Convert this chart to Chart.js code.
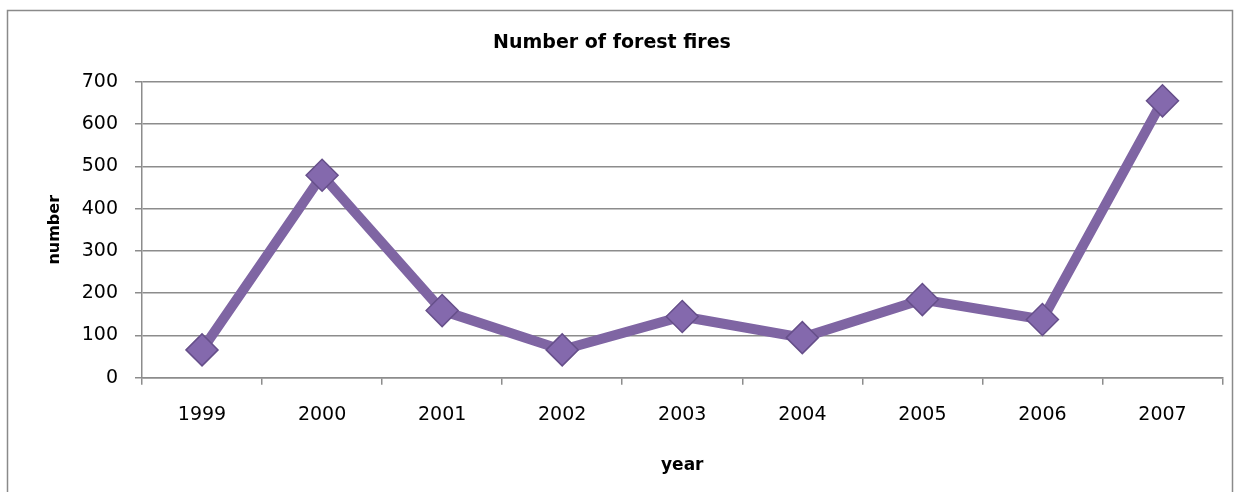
<!DOCTYPE html>
<html>
<head>
<meta charset="utf-8">
<script src="https://cdn.jsdelivr.net/npm/chart.js"></script>
<style>
  html, body { margin: 0; padding: 0; background: #fff; }
  #wrap { width: 1240px; height: 492px; }
</style>
</head>
<body>
<div id="wrap"><canvas id="fireChart" width="1240" height="492"></canvas></div>
<script>
var years = ["1999", "2000", "2001", "2002", "2003", "2004", "2005", "2006", "2007"];
var fires = [66, 479, 159, 66, 145, 95, 185, 138, 655];
var yTicks = [0, 100, 200, 300, 400, 500, 600, 700];

var gridColor = '#8c8c8c';
var font = "'DejaVu Sans', sans-serif";

// outer frame like the spreadsheet chart box
var framePlugin = {
  id: 'frame',
  beforeDraw: function(chart) {
    var ctx = chart.ctx;
    ctx.save();
    ctx.fillStyle = '#fff';
    ctx.fillRect(0, 0, chart.width, chart.height);
    ctx.strokeStyle = '#8a8a8a';
    ctx.lineWidth = 1.5;
    ctx.strokeRect(7.5, 10.5, 1225, 500);
    ctx.restore();
  }
};

var ctx = document.getElementById('fireChart').getContext('2d');
var fireChart = new Chart(ctx, {
  type: 'line',
  data: {
    labels: years,
    datasets: [{
      label: 'number',
      data: fires,
      borderColor: '#7f65a3',
      borderWidth: 10,
      pointStyle: 'rectRot',
      pointRadius: 16,
      pointBackgroundColor: '#8469ad',
      pointBorderColor: '#664f8a',
      pointBorderWidth: 1.5,
      tension: 0,
      fill: false
    }]
  },
  options: {
    responsive: false,
    animation: false,
    layout: { padding: { left: 0, right: 16, top: 0, bottom: 0 } },
    plugins: {
      legend: { display: false },
      tooltip: { enabled: false },
      title: {
        display: true,
        text: 'Number of forest fires',
        color: '#000',
        font: { family: font, size: 19, weight: 'bold' },
        padding: { top: 32, bottom: 27 }
      }
    },
    scales: {
      x: {
        offset: true,
        grid: {
          offset: true,
          drawOnChartArea: false,
          drawTicks: true,
          tickLength: 7,
          color: gridColor,
          lineWidth: 1.5
        },
        border: { color: gridColor, width: 1.5 },
        ticks: {
          color: '#000',
          padding: 19,
          maxRotation: 0,
          font: { family: font, size: 19 }
        },
        title: {
          display: true,
          text: 'year',
          color: '#000',
          font: { family: font, size: 17, weight: 'bold' },
          padding: { top: 10, bottom: 16 }
        }
      },
      y: {
        min: 0,
        max: 700,
        afterBuildTicks: function(scale) {
          scale.ticks = yTicks.map(function(v) { return { value: v }; });
        },
        afterFit: function(scale) {
          scale.width = 142;
        },
        grid: {
          color: gridColor,
          lineWidth: 1.5,
          drawTicks: true,
          tickLength: 7
        },
        border: { color: gridColor, width: 1.5 },
        ticks: {
          color: '#000',
          padding: 17,
          font: { family: font, size: 19 }
        },
        title: {
          display: true,
          text: 'number',
          color: '#000',
          font: { family: font, size: 16, weight: 'bold' },
          padding: { top: 45, bottom: 0 }
        }
      }
    }
  },
  plugins: [framePlugin]
});
</script>
</body>
</html>
